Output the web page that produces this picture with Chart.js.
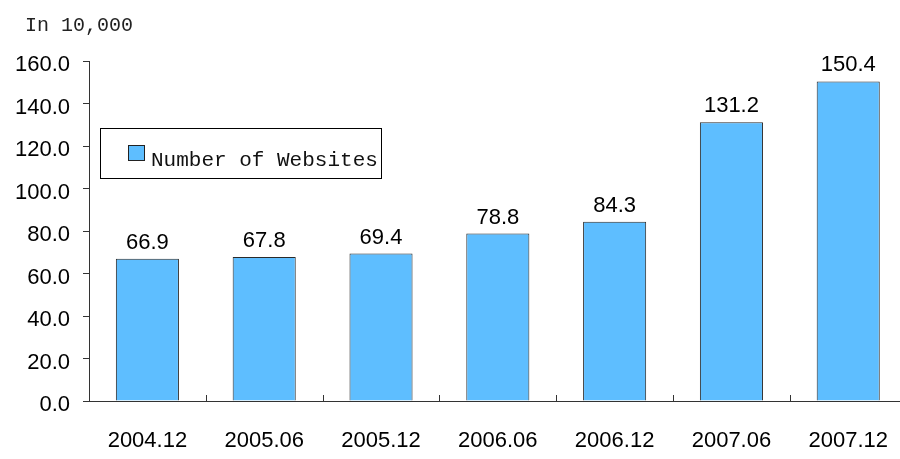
<!DOCTYPE html>
<html>
<head>
<meta charset="utf-8">
<script src="https://cdn.jsdelivr.net/npm/chart.js@4/dist/chart.umd.min.js"></script>
<style>
  html, body { margin: 0; padding: 0; background: #fff; overflow: hidden; }
  #wrap { width: 907px; height: 459px; }
</style>
</head>
<body>
<div id="wrap"><canvas id="grafico" width="907" height="459"></canvas></div>
<script>
(function () {
    'use strict';

    // Datos
    var periodos = ['2004.12', '2005.06', '2005.12', '2006.06', '2006.12', '2007.06', '2007.12'];
    var sitios = [66.9, 67.8, 69.4, 78.8, 84.3, 131.2, 150.4];
    var etiquetaSerie = 'Number of Websites';
    var unidad = 'In 10,000';

    var azul = '#5EBEFF';
    var fuenteNum = '"Liberation Sans", Arial, sans-serif';
    var fuenteMono = '"Liberation Mono", "Courier New", monospace';

    // Textos extra: unidad, leyenda en caja, valores sobre barras, marcas del eje x
    var extras = {
        id: 'extras',
        afterDraw: function (chart) {
            var ctx = chart.ctx;
            var x = chart.scales.x;
            var area = chart.chartArea;
            ctx.save();

            // unidad
            ctx.fillStyle = '#222';
            ctx.font = '20px ' + fuenteMono;
            ctx.textAlign = 'left';
            ctx.textBaseline = 'alphabetic';
            ctx.fillText(unidad, 25, 31);

            // leyenda
            ctx.strokeStyle = '#000';
            ctx.lineWidth = 1;
            ctx.fillStyle = '#fff';
            ctx.fillRect(100.5, 128.5, 281, 50);
            ctx.strokeRect(100.5, 128.5, 281, 50);
            ctx.fillStyle = azul;
            ctx.fillRect(128.5, 145.5, 16, 15);
            ctx.strokeStyle = '#222';
            ctx.strokeRect(128.5, 145.5, 16, 15);
            ctx.fillStyle = '#111';
            ctx.font = '21px ' + fuenteMono;
            ctx.fillText(chart.data.datasets[0].label, 151, 166);

            // valores
            ctx.font = '22px ' + fuenteNum;
            ctx.textAlign = 'center';
            ctx.textBaseline = 'bottom';
            ctx.fillStyle = '#000';
            chart.getDatasetMeta(0).data.forEach(function (bar, i) {
                ctx.fillText(sitios[i].toFixed(1), bar.x, bar.y - 5);
            });

            // marcas entre categorías, hacia dentro
            ctx.strokeStyle = '#333';
            ctx.beginPath();
            for (var i = 0; i < periodos.length; i++) {
                var px = (x.getPixelForValue(i) + x.getPixelForValue(i + 1)) / 2;
                px = Math.round(px) + 0.5;
                ctx.moveTo(px, area.bottom);
                ctx.lineTo(px, area.bottom - 6);
            }
            ctx.stroke();
            ctx.restore();
        }
    };

    new Chart(document.getElementById('grafico').getContext('2d'), {
        type: 'bar',
        data: {
            labels: periodos,
            datasets: [{
                label: etiquetaSerie,
                data: sitios,
                backgroundColor: azul,
                borderColor: '#2a2a2a',
                borderWidth: 1,
                barPercentage: 0.54,
                categoryPercentage: 1
            }]
        },
        options: {
            responsive: false,
            animation: false,
            layout: { padding: { top: 61, left: 0, right: 0, bottom: 0 } },
            plugins: {
                legend: { display: false },
                tooltip: { enabled: false }
            },
            scales: {
                x: {
                    grid: { display: false },
                    border: { color: '#333', width: 1 },
                    ticks: {
                        color: '#000',
                        font: { family: fuenteNum, size: 22 },
                        padding: 19,
                        maxRotation: 0
                    },
                    afterFit: function (s) { s.height = 58; }
                },
                y: {
                    min: 0,
                    max: 160,
                    grid: { drawOnChartArea: false, drawTicks: true, tickLength: 6, color: '#333' },
                    border: { color: '#333', width: 1 },
                    ticks: {
                        stepSize: 20,
                        color: '#000',
                        padding: 13,
                        labelOffset: 4,
                        font: { family: fuenteNum, size: 22 },
                        callback: function (v) { return v.toFixed(1); }
                    },
                    afterFit: function (s) { s.width = 89; }
                }
            }
        },
        plugins: [extras]
    });
})();
</script>
</body>
</html>
